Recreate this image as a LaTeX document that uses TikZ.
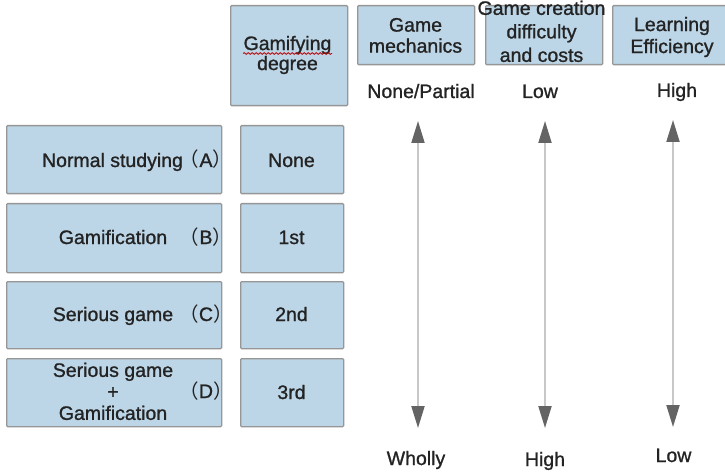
\documentclass[tikz,border=0pt]{standalone}
\usepackage{fontspec}
\setmainfont{Liberation Sans}[FakeBold=1.1]
\newfontfamily\cjk{Noto Sans CJK SC}
\usetikzlibrary{arrows.meta,decorations.pathmorphing}
\definecolor{boxfill}{RGB}{189,214,231}
\definecolor{boxline}{RGB}{150,150,150}
\definecolor{shaftgray}{RGB}{200,200,200}
\definecolor{headgray}{RGB}{100,100,100}
\definecolor{txt}{RGB}{35,35,35}
\tikzset{
  cell/.style={draw=boxline, fill=boxfill, line width=1.3pt, rounded corners=1pt, inner sep=0pt, anchor=north west},
  lbl/.style={font=\fontsize{19.5}{21.5}\selectfont, text=txt, align=center, inner sep=0pt},
  bl/.style={lbl, anchor=base},
  scalearrow/.style={draw=shaftgray, line width=2pt,
    {Triangle[length=22pt,width=13pt,color=headgray]}-{Triangle[length=22pt,width=13pt,color=headgray]}},
}
\newcommand{\pr}[1]{{\cjk （}#1{\cjk ）}}
\begin{document}
\begin{tikzpicture}[x=1pt,y=-1pt]
\useasboundingbox (0,0) rectangle (725,473);
% header boxes
\node[cell, minimum width=117pt, minimum height=100pt] (hg) at (230,5) {};
\node[cell, minimum width=117pt, minimum height=59pt] (hm) at (357,5) {};
\node[cell, minimum width=117pt, minimum height=59pt] (hc) at (485,5) {};
\node[cell, minimum width=118pt, minimum height=59pt] (he) at (612,5) {};
\node[lbl, font=\fontsize{19.5}{20}\selectfont] (thg) at (287.5,55) {Gamifying\\degree};
\draw[red!75!black, line width=0.8pt, decorate, decoration={snake, amplitude=0.9pt, segment length=4pt}] (243,53.5) -- (332,53.5);
\node[lbl, font=\fontsize{19.5}{21}\selectfont] (thm) at (415.5,35.4) {Game\\mechanics};
\node[lbl, font=\fontsize{19.5}{23.5}\selectfont] (thc) at (541.5,31.4) {Game creation\\difficulty\\and costs};
\node[lbl, font=\fontsize{19.5}{22}\selectfont] (the) at (672,37) {Learning\\Efficiency};
% rows
\node[cell, minimum width=215pt, minimum height=68pt] (rA) at (6,125) {};
\node[cell, minimum width=215pt, minimum height=69pt] (rB) at (6,203) {};
\node[cell, minimum width=215pt, minimum height=67pt] (rC) at (6,281) {};
\node[cell, minimum width=215pt, minimum height=68pt] (rD) at (6,358) {};
\node[cell, minimum width=103pt, minimum height=68pt] (dA) at (240,125) {};
\node[cell, minimum width=103pt, minimum height=69pt] (dB) at (240,203) {};
\node[cell, minimum width=103pt, minimum height=67pt] (dC) at (240,281) {};
\node[cell, minimum width=103pt, minimum height=68pt] (dD) at (240,358) {};
\node[bl] (tA) at (112.5,167) {Normal studying};
\node[bl] (pA) at (206,167) {\pr{A}};
\node[bl] (tB) at (113,244) {Gamification};
\node[bl] (pB) at (206,244) {\pr{B}};
\node[bl] (tC) at (113,321) {Serious game};
\node[bl] (pC) at (206,321) {\pr{C}};
\node[lbl] (tD) at (113,391.4) {Serious game\\+\\Gamification};
\node[bl] (pD) at (206,398) {\pr{D}};
\node[bl] (nA) at (291.5,167) {None};
\node[bl] (nB) at (291.5,244) {1st};
\node[bl] (nC) at (291.5,321) {2nd};
\node[bl] (nD) at (291.5,399) {3rd};
% scale labels
\node[bl] (t1) at (421,98) {None/Partial};
\node[bl] (t2) at (540,98) {Low};
\node[bl] (t3) at (677,97) {High};
\node[bl] (b1) at (416,465) {Wholly};
\node[bl] (b2) at (545,466) {High};
\node[bl] (b3) at (673.5,462) {Low};
% arrows
\coordinate (a1t) at (418,121); \coordinate (a1b) at (418,428);
\coordinate (a2t) at (545,121); \coordinate (a2b) at (545,428);
\coordinate (a3t) at (673,120); \coordinate (a3b) at (673,427);
\draw[scalearrow] (a1t) -- (a1b);
\draw[scalearrow] (a2t) -- (a2b);
\draw[scalearrow] (a3t) -- (a3b);
\end{tikzpicture}
\end{document}
